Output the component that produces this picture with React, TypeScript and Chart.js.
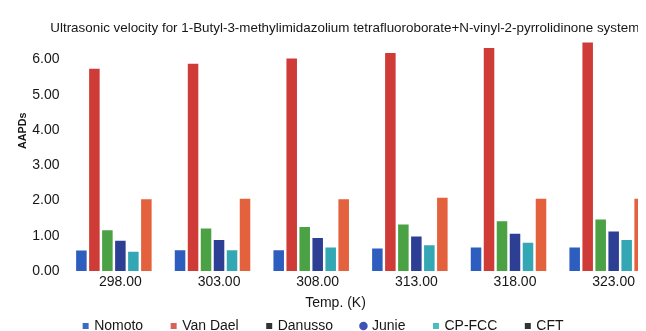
import React, { useEffect, useRef } from 'react';
import { Chart, registerables } from 'chart.js';

Chart.register(...registerables);

const TITLE = 'Ultrasonic velocity for 1-Butyl-3-methylimidazolium tetrafluoroborate+N-vinyl-2-pyrrolidinone system';
const X_TITLE = 'Temp. (K)';
const Y_TITLE = 'AAPDs';

const temps = ['298.00', '303.00', '308.00', '313.00', '318.00', '323.00'];

const nomoto = [0.58, 0.59, 0.59, 0.64, 0.67, 0.67];
const vanDael = [5.74, 5.88, 6.03, 6.19, 6.33, 6.49];
const danusso = [1.16, 1.21, 1.25, 1.32, 1.41, 1.46];
const junie = [0.86, 0.88, 0.94, 0.98, 1.06, 1.12];
const cpFcc = [0.55, 0.59, 0.67, 0.73, 0.8, 0.88];
const cft = [2.04, 2.05, 2.04, 2.08, 2.05, 2.05];
// empty seventh series slot present in the original chart
const emptySlot = [null, null, null, null, null, null];

const seriesNames = ['Nomoto', 'Van Dael', 'Danusso', 'Junie', 'CP-FCC', 'CFT'];
const seriesData = [nomoto, vanDael, danusso, junie, cpFcc, cft];
const barColors = ['#2d5dbe', '#cf3c38', '#4aa244', '#2d3f94', '#33a8b4', '#e3613d'];
const legendColors = ['#3b6cc4', '#d8615a', '#333333', '#3f51b5', '#4cbcc0', '#333333'];
const legendShapes = ['rect', 'rect', 'rect', 'circle', 'rect', 'rect'];

const FONT = '"Liberation Sans", Arial, Helvetica, sans-serif';
const TEXT = '#161616';

export default function App() {
  const ref = useRef<HTMLCanvasElement | null>(null);

  useEffect(() => {
    if (!ref.current) return;
    const datasets: any[] = seriesNames.map((name, i) => ({
      label: name,
      data: seriesData[i],
      backgroundColor: barColors[i],
      borderWidth: 0,
    }));
    datasets.push({ label: '', data: emptySlot, backgroundColor: 'rgba(0,0,0,0)', borderWidth: 0 });

    const chart = new Chart(ref.current, {
      type: 'bar',
      data: { labels: temps, datasets },
      options: {
        responsive: false,
        animation: false,
        events: [],
        layout: { padding: { left: 0, right: 5, top: 0, bottom: 0 } },
        datasets: { bar: { categoryPercentage: 0.922, barPercentage: 0.81 } },
        plugins: {
          tooltip: { enabled: false },
          title: {
            display: true,
            text: '     ' + TITLE,
            color: TEXT,
            font: { family: FONT, size: 13.4, weight: 'normal' },
            padding: { top: 11.96, bottom: 2.46 },
          },
          subtitle: {
            display: true,
            position: 'bottom',
            weight: 500,
            text: X_TITLE,
            color: TEXT,
            font: { family: FONT, size: 14, weight: 'normal' },
            padding: { top: 1.6, bottom: -21.4 },
          },
          legend: {
            display: true,
            position: 'bottom',
            labels: {
              usePointStyle: true,
              boxWidth: 3,
              boxHeight: 6,
              padding: 29,
              color: TEXT,
              font: { family: FONT, size: 14 },
              generateLabels: () =>
                seriesNames.map((name, i) => ({
                  text: i === seriesNames.length - 1 ? name + '      ' : name,
                  fillStyle: legendColors[i],
                  strokeStyle: legendColors[i],
                  lineWidth: 0,
                  pointStyle: legendShapes[i] as any,
                  hidden: false,
                  datasetIndex: i,
                  fontColor: TEXT,
                })),
            },
          },
        },
        scales: {
          x: {
            grid: { display: false, drawTicks: false },
            border: { display: false },
            ticks: {
              color: TEXT,
              padding: 2.6,
              maxRotation: 0,
              autoSkip: false,
              font: { family: FONT, size: 14 },
            },
          },
          y: {
            min: 0,
            max: 6.6,
            grid: { display: false, drawTicks: false },
            border: { display: false },
            ticks: {
              stepSize: 1,
              includeBounds: false,
              color: TEXT,
              padding: 11.5,
              font: { family: FONT, size: 14 },
              callback: (v: any) => Number(v).toFixed(2),
            },
            title: {
              display: true,
              text: '                ' + Y_TITLE,
              color: TEXT,
              font: { family: FONT, size: 10.8, weight: 'bold' },
              padding: { top: 8.52, bottom: -8.68 },
            },
          },
        },
      },
    });
    return () => chart.destroy();
  }, []);

  return (
    <div style={{ width: 638, height: 323, overflow: 'hidden', position: 'relative' }}>
      <canvas ref={ref} width={660} height={338} style={{ display: 'block' }} />
    </div>
  );
}
